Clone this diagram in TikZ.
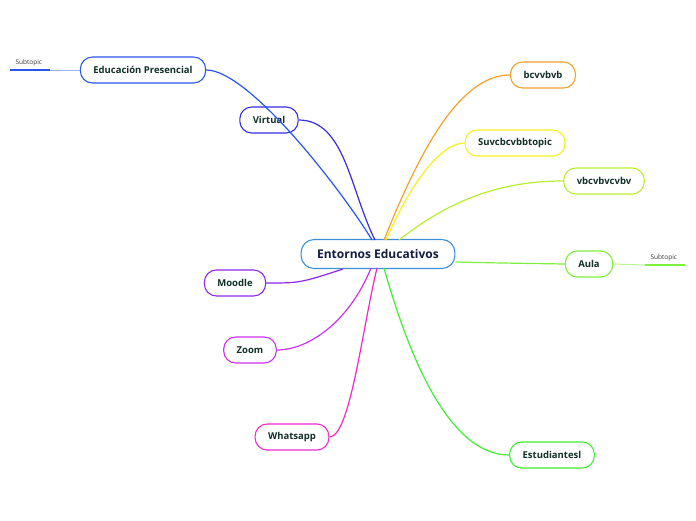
\documentclass[tikz,border=0pt]{standalone}
\usepackage{fontspec}
\setmainfont{Open Sans}
\usetikzlibrary{positioning}
\definecolor{mainblue}{RGB}{58, 143, 216}
\definecolor{txtdark}{RGB}{16, 48, 40}
\definecolor{txtnavy}{RGB}{20, 28, 64}
\definecolor{brblue}{RGB}{40, 85, 235}
\definecolor{brindigo}{RGB}{55, 45, 225}
\definecolor{brpurple}{RGB}{140, 40, 235}
\definecolor{brviolet}{RGB}{205, 50, 240}
\definecolor{brpink}{RGB}{240, 40, 205}
\definecolor{brorange}{RGB}{245, 160, 40}
\definecolor{bryellow}{RGB}{245, 240, 30}
\definecolor{brlime}{RGB}{185, 240, 45}
\definecolor{brlgreen}{RGB}{125, 240, 60}
\definecolor{brgreen}{RGB}{60, 240, 50}

\begin{document}
\begin{tikzpicture}[x=1pt, y=-1pt,
    topic/.style={draw, fill=white, line width=1.1pt, rounded corners=12pt,
        minimum height=26pt, inner xsep=13pt, text=txtdark,
        font=\fontsize{9.5}{11}\selectfont\bfseries},
    central/.style={topic, draw=mainblue, minimum height=29pt, rounded corners=13pt,
        inner xsep=16pt, text=txtnavy, font=\fontsize{12}{14}\selectfont\bfseries},
    branch/.style={line width=1.2pt},
    subtopic/.style={font=\fontsize{6.5}{8}\selectfont, text=black!80}]
    \useasboundingbox (0,0) rectangle (696,520);

    % central topic
    \node[central] (entornos) at (378,254) {Entornos Educativos};
    \coordinate (tblue) at (372,240);
    \coordinate (tindigo) at (375,240);
    \coordinate (torange) at (384,240);
    \coordinate (tyellow) at (386,240);
    \coordinate (tlime) at (399,240);
    \coordinate (bpurple) at (343,269);
    \coordinate (bviolet) at (371,268);
    \coordinate (bpink) at (377,268);
    \coordinate (bgreen) at (384,268);

    % main topics
    \node[topic, draw=brblue] (presencial) at (143,70) {Educación Presencial};
    \node[topic, draw=brindigo] (virtual) at (269,120) {Virtual};
    \node[topic, draw=brpurple] (moodle) at (235,283) {Moodle};
    \node[topic, draw=brviolet] (zoom) at (250,350) {Zoom};
    \node[topic, draw=brpink] (whatsapp) at (292,437) {Whatsapp};
    \node[topic, draw=brorange] (bcvv) at (543,75) {bcvvbvb};
    \node[topic, draw=bryellow] (suvc) at (515,143) {Suvcbcvbbtopic};
    \node[topic, draw=brlime] (vbcv) at (604,181) {vbcvbvcvbv};
    \node[topic, draw=brlgreen] (aula) at (589,264) {Aula};
    \node[topic, draw=brgreen] (estudiantes) at (552,455) {Estudiantesl};

    % branches
    \draw[branch, brblue] (tblue) .. controls (345,195) and (250,70) .. (presencial.east);
    \draw[branch, brindigo] (tindigo) .. controls (350,190) and (345,120) .. (virtual.east);
    \draw[branch, brorange] (torange) .. controls (420,150) and (460,75) .. (bcvv.west);
    \draw[branch, bryellow] (tyellow) .. controls (410,185) and (440,143) .. (suvc.west);
    \draw[branch, brlime] (tlime) .. controls (450,200) and (500,181) .. (vbcv.west);
    \draw[branch, brlgreen] (entornos.east |- 0,262) .. controls (500,263) .. (aula.west);
    \draw[branch, brpurple] (bpurple) .. controls (300,283) .. (moodle.east);
    \draw[branch, brviolet] (bviolet) .. controls (350,320) and (310,350) .. (zoom.east);
    \draw[branch, brpink] (bpink) .. controls (362,330) and (350,437) .. (whatsapp.east);
    \draw[branch, brgreen] (bgreen) .. controls (410,360) and (450,455) .. (estudiantes.west);

    % subtopics
    \coordinate (lsub) at (50,70);
    \coordinate (lsubend) at (10,70);
    \draw[line width=1pt, brblue!45] (presencial.west) -- (lsub);
    \draw[line width=1.4pt, brblue] (lsub) -- (lsubend);
    \node[subtopic, above right=0pt and 2pt of lsubend] (lsubtxt) {Subtopic};
    \coordinate (rsub) at (645,265);
    \coordinate (rsubend) at (685,265);
    \draw[line width=1pt, brlgreen!55] (aula.east) -- (rsub);
    \draw[line width=1.4pt, brlgreen] (rsub) -- (rsubend);
    \node[subtopic, above right=0pt and 2pt of rsub] (rsubtxt) {Subtopic};
\end{tikzpicture}
\end{document}
